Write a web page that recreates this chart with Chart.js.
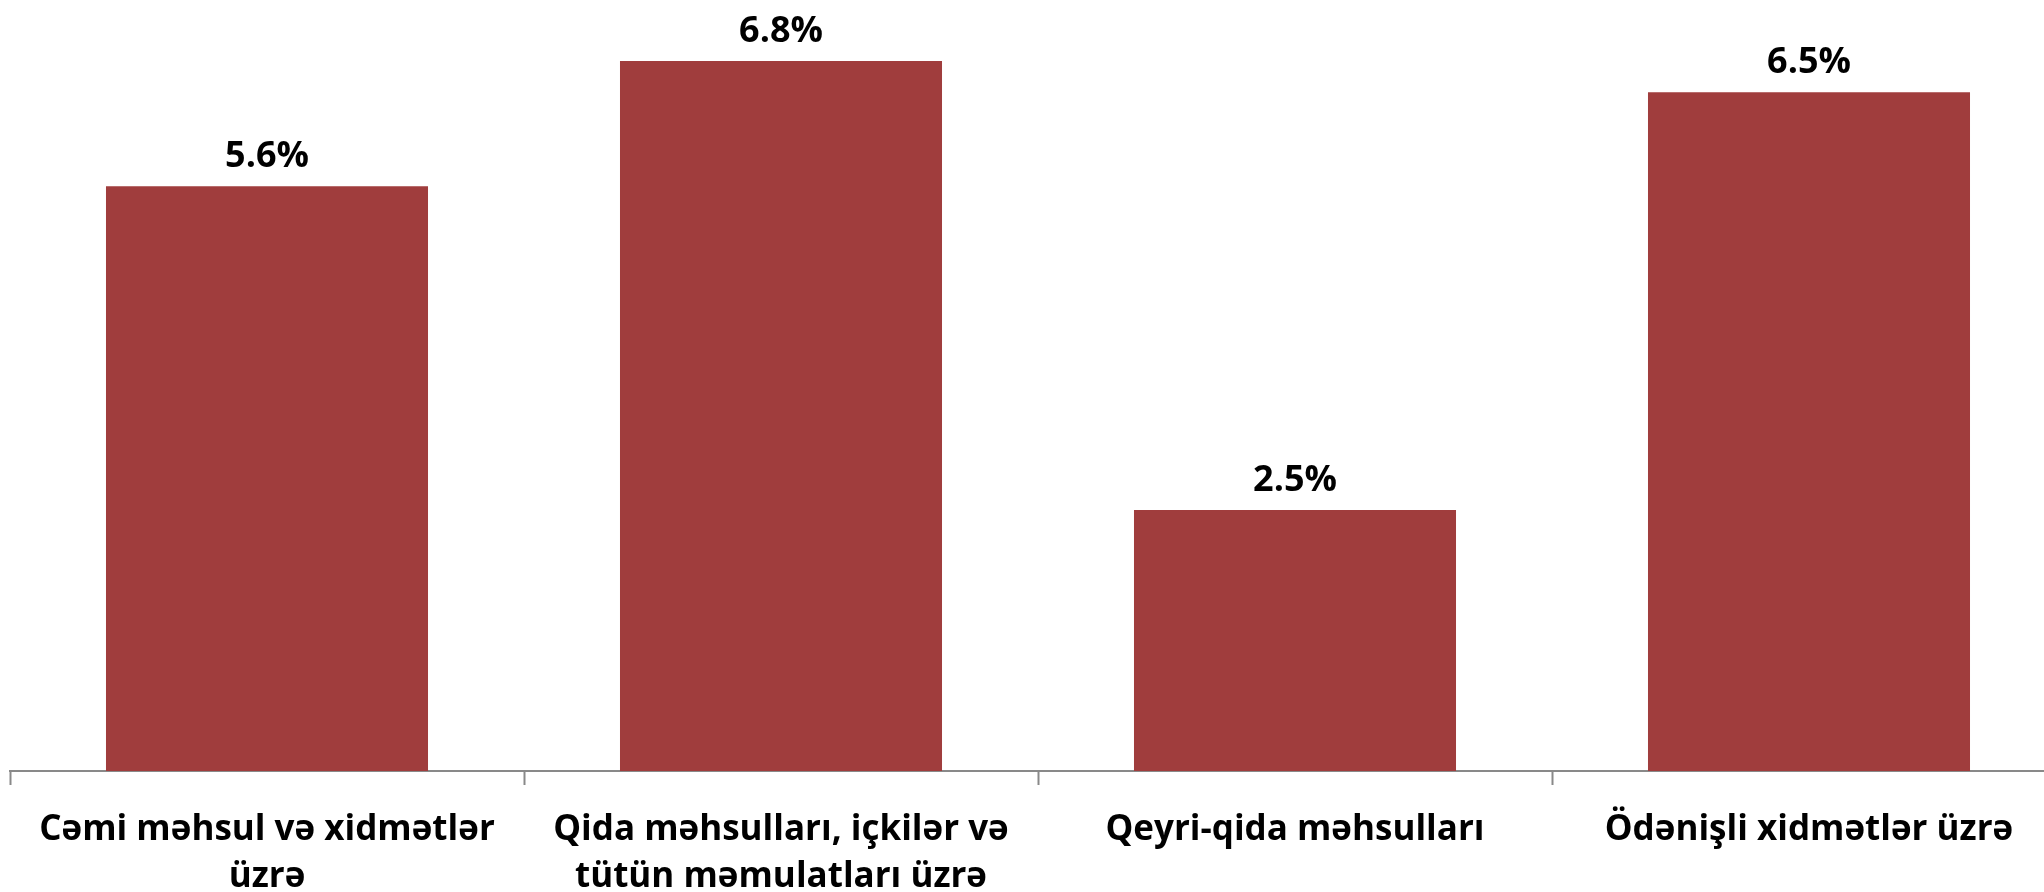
<!DOCTYPE html>
<html>
<head>
<meta charset="utf-8">
<script src="https://cdn.jsdelivr.net/npm/chart.js@4"></script>
<style>
    html, body { margin: 0; padding: 0; background: #ffffff; overflow: hidden; }
    #wrap { position: absolute; left: 0; top: 0; width: 2084px; height: 892px; }
</style>
</head>
<body>
<div id="wrap"><canvas id="barChart"></canvas></div>
<script>
// Categories (multi-line labels as in the original)
const categories = [
    ["Cəmi məhsul və xidmətlər", "üzrə"],
    ["Qida məhsulları, içkilər və", "tütün məmulatları üzrə"],
    "Qeyri-qida məhsulları",
    "Ödənişli xidmətlər üzrə"
];

// Growth in percent
const values = [5.6, 6.8, 2.5, 6.5];

const barColor = "#A03D3D";
const axisColor = "#898989";
const fontFamily = "'Open Sans', 'Noto Sans', sans-serif";

// Draw the percent labels above every bar
const valueLabels = {
    id: "valueLabels",
    afterDatasetsDraw(chart) {
        const ctx = chart.ctx;
        const meta = chart.getDatasetMeta(0);
        ctx.save();
        ctx.font = `bold 36px ${fontFamily}`;
        ctx.fillStyle = "#000000";
        ctx.textAlign = "center";
        ctx.textBaseline = "alphabetic";
        meta.data.forEach((bar, i) => {
            ctx.fillText(values[i].toFixed(1) + "%", bar.x, bar.y - 19);
        });
        ctx.restore();
    }
};

const ctx = document.getElementById("barChart");

new Chart(ctx, {
    type: "bar",
    data: {
        labels: categories,
        datasets: [{
            data: values,
            backgroundColor: barColor,
            borderWidth: 0,
            barPercentage: 0.6265,
            categoryPercentage: 1.0
        }]
    },
    options: {
        responsive: true,
        maintainAspectRatio: false,
        animation: false,
        layout: { padding: { left: 10, right: 18, top: 40, bottom: 0 } },
        plugins: {
            legend: { display: false },
            tooltip: { enabled: false }
        },
        scales: {
            x: {
                afterFit: (scale) => { scale.height = 121; },
                border: { display: true, color: axisColor, width: 2 },
                grid: {
                    display: true,
                    offset: true,
                    drawOnChartArea: false,
                    drawTicks: true,
                    tickLength: 14,
                    tickWidth: 2,
                    color: axisColor
                },
                ticks: {
                    color: "#000000",
                    padding: 22,
                    maxRotation: 0,
                    autoSkip: false,
                    font: { family: fontFamily, size: 35, weight: "bold", lineHeight: 1.34 }
                }
            },
            y: {
                display: false,
                min: 0,
                max: 7
            }
        }
    },
    plugins: [valueLabels]
});
</script>
</body>
</html>
